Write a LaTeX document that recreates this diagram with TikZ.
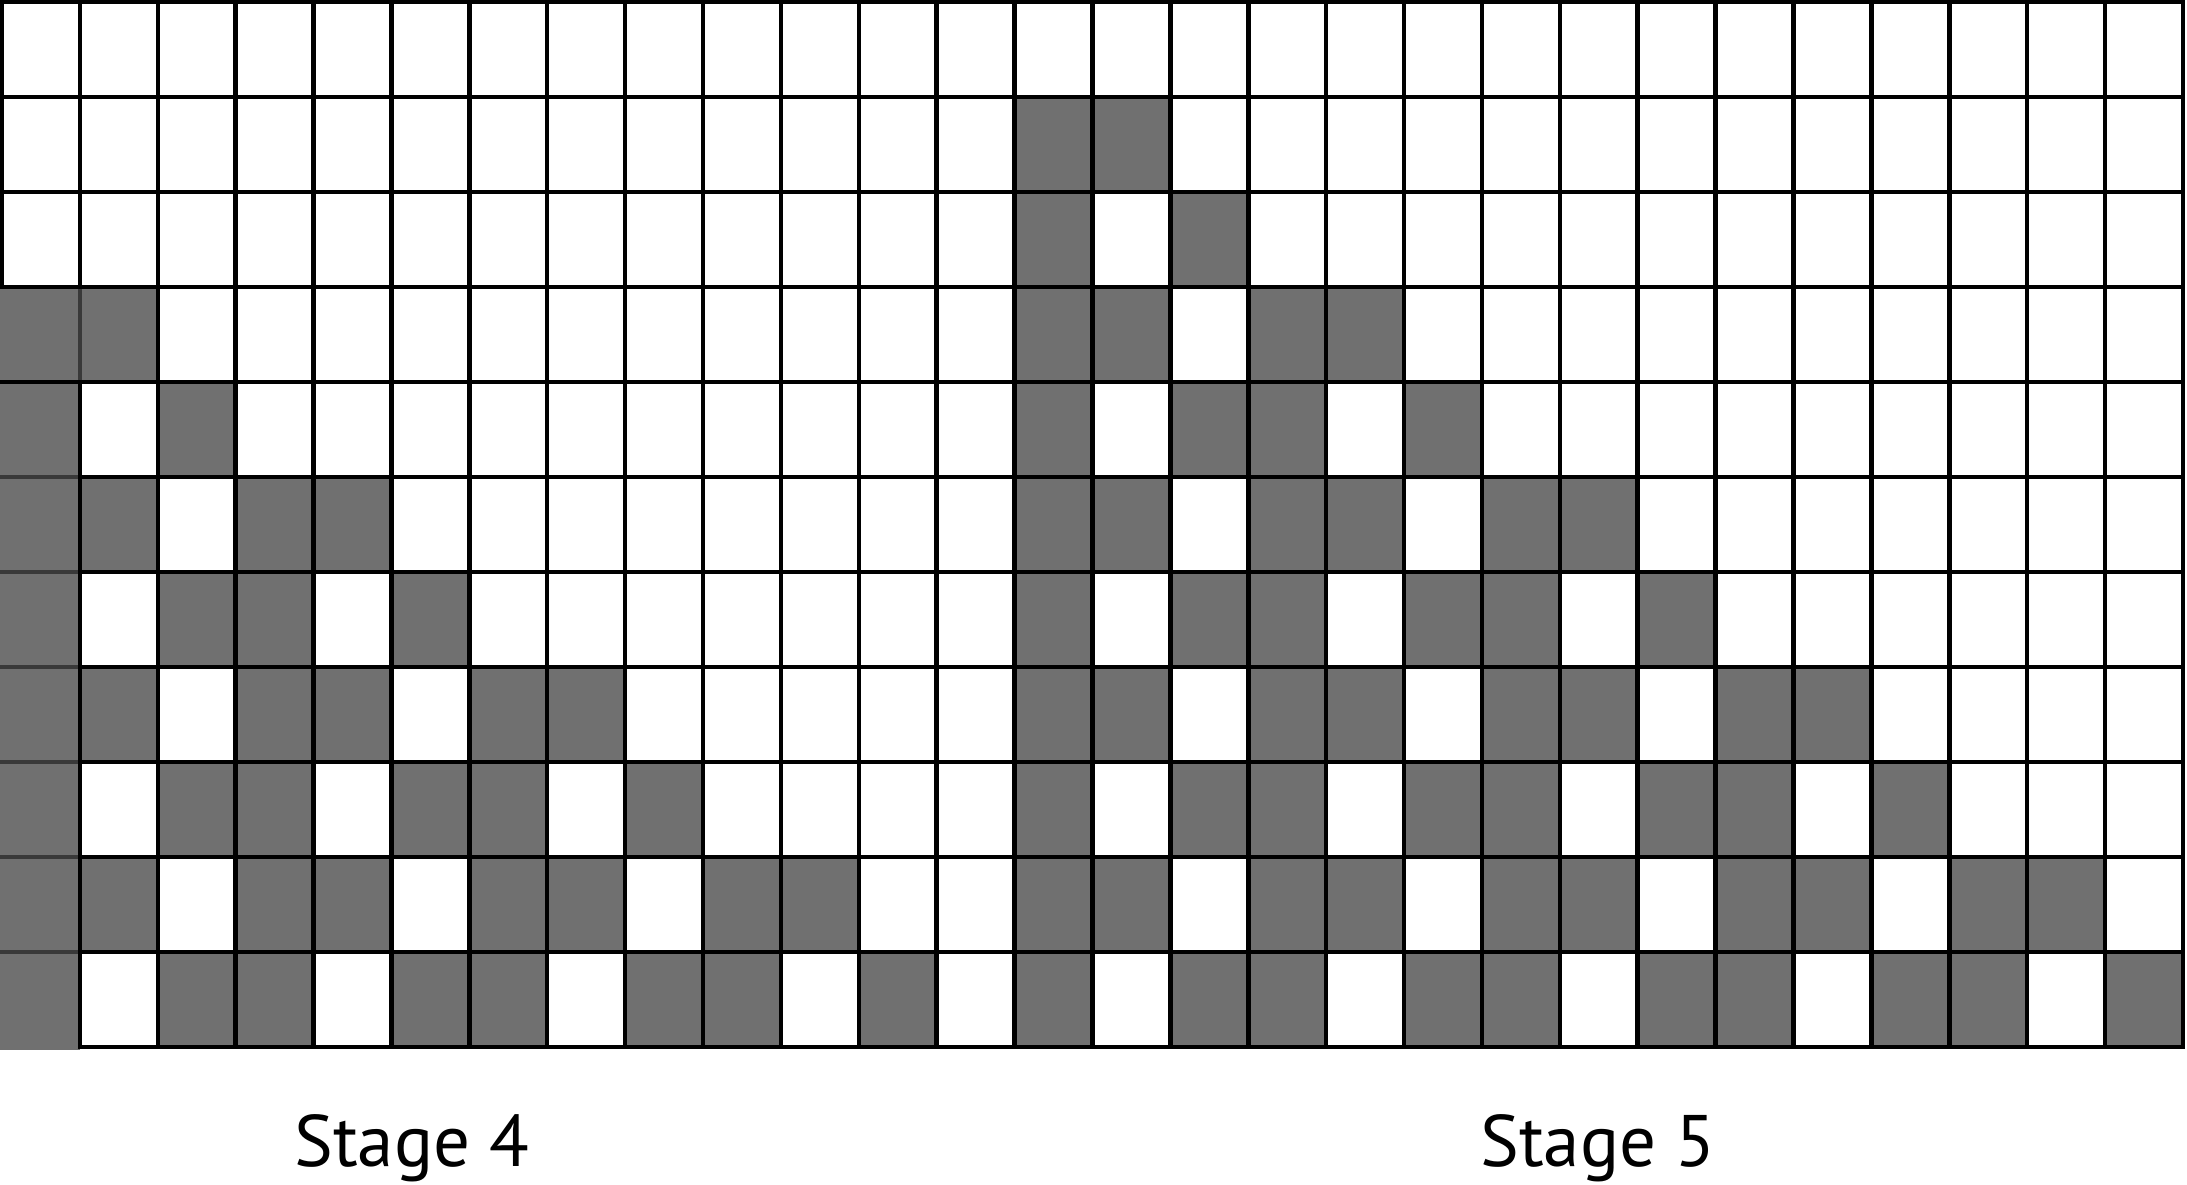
\documentclass[tikz,border=0pt]{standalone}
\usepackage{fontspec}
\setmainfont{PT Sans}
\definecolor{cellgray}{HTML}{707070}
\definecolor{faintline}{HTML}{393939}
\begin{document}
\begin{tikzpicture}[x=1pt,y=-1pt,
  gridline/.style={line width=4.5pt, black, line cap=rect},
  fadeline/.style={line width=3.5pt, faintline},
  stagelabel/.style={font=\fontsize{73}{80}\selectfont, anchor=base, inner sep=0pt}]
\useasboundingbox (0,0) rectangle (2187,1184);
\fill[white] (0,0) rectangle (2187,1184);
\def\W{77.89}\def\H{95}\def\X{2}\def\Y{2}
% gray cells
\foreach \r/\cols in {2/{14,15}, 3/{14,16}, 4/{1,2,14,15,17,18}, 5/{1,3,14,16,17,19},
  6/{1,2,4,5,14,15,17,18,20,21}, 7/{1,3,4,6,14,16,17,19,20,22},
  8/{1,2,4,5,7,8,14,15,17,18,20,21,23,24}, 9/{1,3,4,6,7,9,14,16,17,19,20,22,23,25},
  10/{1,2,4,5,7,8,10,11,14,15,17,18,20,21,23,24,26,27},
  11/{1,3,4,6,7,9,10,12,14,16,17,19,20,22,23,25,26,28}} {
  \foreach \c in \cols {
    \fill[cellgray] ({\X+(\c-1)*\W},{\Y+(\r-1)*\H}) rectangle ++(\W,\H);
  }
}
% first column gray extends to left edge
\fill[cellgray] (0,{\Y+3*\H}) rectangle ({\X+\W},{\Y+11*\H+2.5});
% faint lines inside first column
\foreach \j in {4,...,9} {
  \draw[fadeline] (0,{\Y+\j*\H+\H}) -- ({\X+\W},{\Y+\j*\H+\H});
}
\draw[fadeline] ({\X+\W},{\Y+3*\H}) -- ({\X+\W},{\Y+4*\H});
% horizontal lines
\foreach \j in {0,...,4} {
  \draw[gridline] (\X,{\Y+\j*\H}) -- ({\X+28*\W},{\Y+\j*\H});
}
\foreach \j in {5,...,11} {
  \draw[gridline] ({\X+\W},{\Y+\j*\H}) -- ({\X+28*\W},{\Y+\j*\H});
}
% vertical lines
\draw[gridline] (\X,\Y) -- (\X,{\Y+3*\H});
\draw[gridline] ({\X+\W},\Y) -- ({\X+\W},{\Y+3*\H});
\draw[gridline] ({\X+\W},{\Y+4*\H}) -- ({\X+\W},{\Y+11*\H});
\foreach \i in {2,...,28} {
  \draw[gridline] ({\X+\i*\W},\Y) -- ({\X+\i*\W},{\Y+11*\H});
}
% labels
\node[stagelabel] (s4) at (412,1166) {Stage 4};
\node[stagelabel] (s5) at (1598,1166) {Stage 5};
\end{tikzpicture}
\end{document}
